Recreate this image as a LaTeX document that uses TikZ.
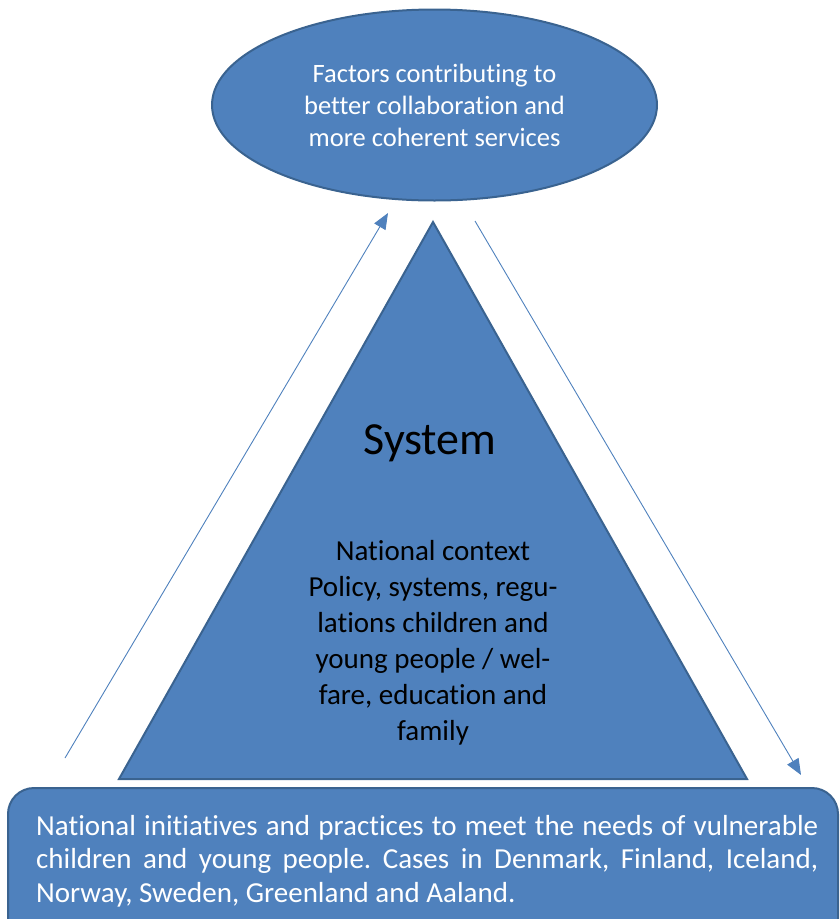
\documentclass[tikz,border=0pt]{standalone}
\usepackage{fontspec}
\setmainfont{Carlito}[Ligatures={NoCommon}]
\usetikzlibrary{shapes.geometric,arrows.meta}
\definecolor{fillblue}{HTML}{4F81BD}
\definecolor{edgeblue}{HTML}{3A6390}
\tikzset{
  shapefill/.style={fill=fillblue, draw=edgeblue, line width=2pt},
  flowarrow/.style={draw=fillblue, line width=0.9pt, -{Triangle[length=16pt,width=13pt]}},
  bottomline/.style={anchor=base west, inner sep=0pt, text=white, font=\fontsize{29}{33}\selectfont},
}
\frenchspacing
\begin{document}
\begin{tikzpicture}[x=1pt,y=-1pt]
\useasboundingbox (0,0) rectangle (840,919);
\clip (0,0) rectangle (840,919);
% top ellipse
\node[shapefill, ellipse, minimum width=445pt, minimum height=191pt, inner sep=0pt,
      text=white, align=center, font=\fontsize{26.5}{32}\selectfont] (goal) at (434.5,105)
  {Factors contributing to\\better collaboration and\\more coherent services};
% triangle
\coordinate (apex) at (433,222);
\coordinate (bl) at (119,779);
\coordinate (br) at (747,779);
\draw[shapefill, line join=miter] (apex) -- (br) -- (bl) -- cycle;
\node[inner sep=0pt, font=\fontsize{46}{50}\selectfont] (system) at (430,443) {System};
\node[inner sep=0pt, align=center, font=\fontsize{29}{36}\selectfont] (context) at (433,643)
  {National context\\Policy, systems, regu-\\lations children and\\young people / wel-\\fare, education and\\family};
% bottom box
\draw[shapefill, rounded corners=26pt] (8,788) rectangle (838,960);
\node[bottomline] (l1) at (36,835) {\makebox[782pt][s]{National initiatives and practices to meet the needs of vulnerable}};
\node[bottomline] (l2) at (36,868.5) {\makebox[782pt][s]{children and young people. Cases in Denmark, Finland, Iceland,}};
\node[bottomline] (l3) at (36,902) {Norway, Sweden, Greenland and Aaland.};
% arrows
\coordinate (upstart) at (65,758);
\coordinate (upend) at (388,213);
\coordinate (downstart) at (475,221);
\coordinate (downend) at (801,775);
\draw[flowarrow] (upstart) -- (upend);
\draw[flowarrow] (downstart) -- (downend);
\end{tikzpicture}
\end{document}
